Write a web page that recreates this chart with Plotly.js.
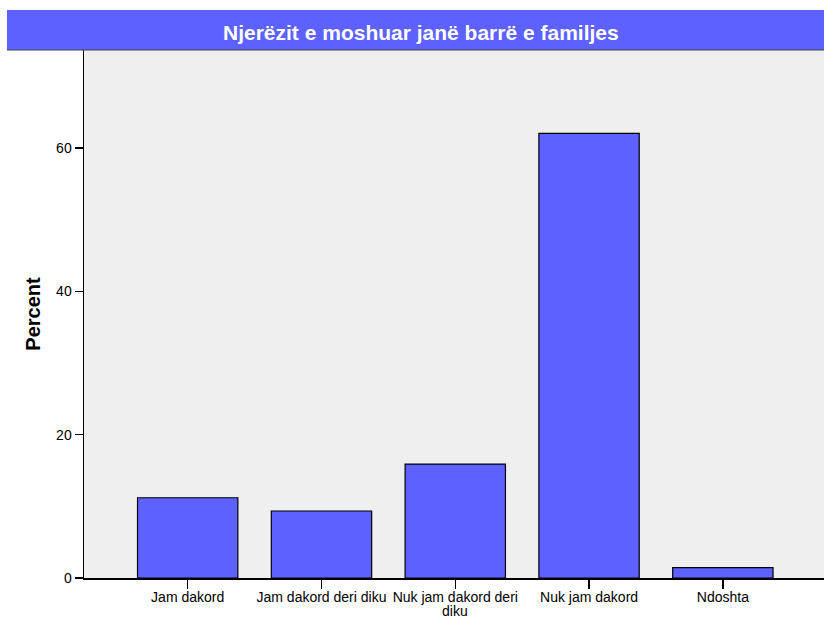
<!DOCTYPE html>
<html>
<head>
<meta charset="utf-8">
<script src="https://cdn.plot.ly/plotly-3.0.1.min.js"></script>
<style>html,body{margin:0;padding:0;background:#fff;}#chart{width:824px;height:618px;}</style>
</head>
<body>
<div id="chart"></div>
<script>
const categories = ["Jam dakord", "Jam dakord deri diku", "Nuk jam dakord deri", "Nuk jam dakord", "Ndoshta"];
const wrappedTail = ["", "", "diku", "", ""];
const percentValues = [11.2, 9.35, 15.9, 62.05, 1.45];
const yTickValues = [0, 20, 40, 60];
const chartTitle = "Njerëzit e moshuar janë barrë e familjes";
const yTitle = "Percent";

const plotTop = 50, plotBottom = 578, plotLeft = 84, plotRight = 824;
const ph = plotBottom - plotTop, pw = plotRight - plotLeft;
const py = y => (plotBottom - y) / ph;
const px = x => (x - plotLeft) / pw;

const trace = {
  type: "bar",
  x: [0, 1, 2, 3, 4],
  y: percentValues,
  width: 0.75,
  marker: {color: "rgb(92,97,255)", line: {color: "#000", width: 1.2}},
  hoverinfo: "none"
};

const tailAnnotations = wrappedTail.map((t, i) => t ? ({
  text: t, xref: "x", yref: "paper", x: i, y: py(620), xanchor: "center", yanchor: "bottom",
  showarrow: false, font: {size: 14, color: "#000"}, borderpad: 0
}) : null).filter(a => a);

const layout = {
  width: 824, height: 618,
  margin: {l: plotLeft, r: 824 - plotRight, t: plotTop, b: 618 - plotBottom, pad: 0},
  paper_bgcolor: "#fff",
  plot_bgcolor: "#efefef",
  showlegend: false,
  font: {family: "Liberation Sans, Arial, sans-serif", color: "#000", size: 14},
  xaxis: {
    range: [-0.775, 4.756],
    tickmode: "array", tickvals: [0, 1, 2, 3, 4], ticktext: categories,
    tickangle: 0,
    ticks: "outside", ticklen: 9, tickcolor: "#000", tickwidth: 1.5,
    showline: true, linecolor: "#000", linewidth: 1.5,
    showgrid: false, zeroline: false, ticklabelstandoff: -3,
    tickfont: {size: 14}, fixedrange: true
  },
  yaxis: {
    range: [0, (plotBottom - plotTop) / ((plotBottom - 148) / 60)],
    tickmode: "array", tickvals: yTickValues,
    ticks: "outside", ticklen: 8, tickcolor: "#000", tickwidth: 1.5,
    showline: true, linecolor: "#000", linewidth: 1.5,
    showgrid: false, zeroline: false,
    tickfont: {size: 14},
    title: {text: "<b>" + yTitle + "</b>", font: {size: 20}, standoff: 10},
    fixedrange: true
  },
  shapes: [
    {type: "rect", xref: "paper", yref: "paper", x0: px(7), x1: px(840), y0: py(50), y1: py(10),
     fillcolor: "rgb(92,97,255)", line: {width: 0}, layer: "above"},
    {type: "line", xref: "paper", yref: "paper", x0: px(7), x1: px(840), y0: py(50), y1: py(50),
     line: {color: "#444", width: 1.2}, layer: "above"}
  ],
  annotations: [
    {text: "<b>" + chartTitle + "</b>", xref: "paper", yref: "paper",
     x: px(421), y: py(33), xanchor: "center", yanchor: "middle", showarrow: false,
     font: {size: 21, color: "#fff"}}
  ].concat(tailAnnotations)
};

Plotly.newPlot("chart", [trace], layout, {displayModeBar: false, staticPlot: true});
</script>
</body>
</html>
